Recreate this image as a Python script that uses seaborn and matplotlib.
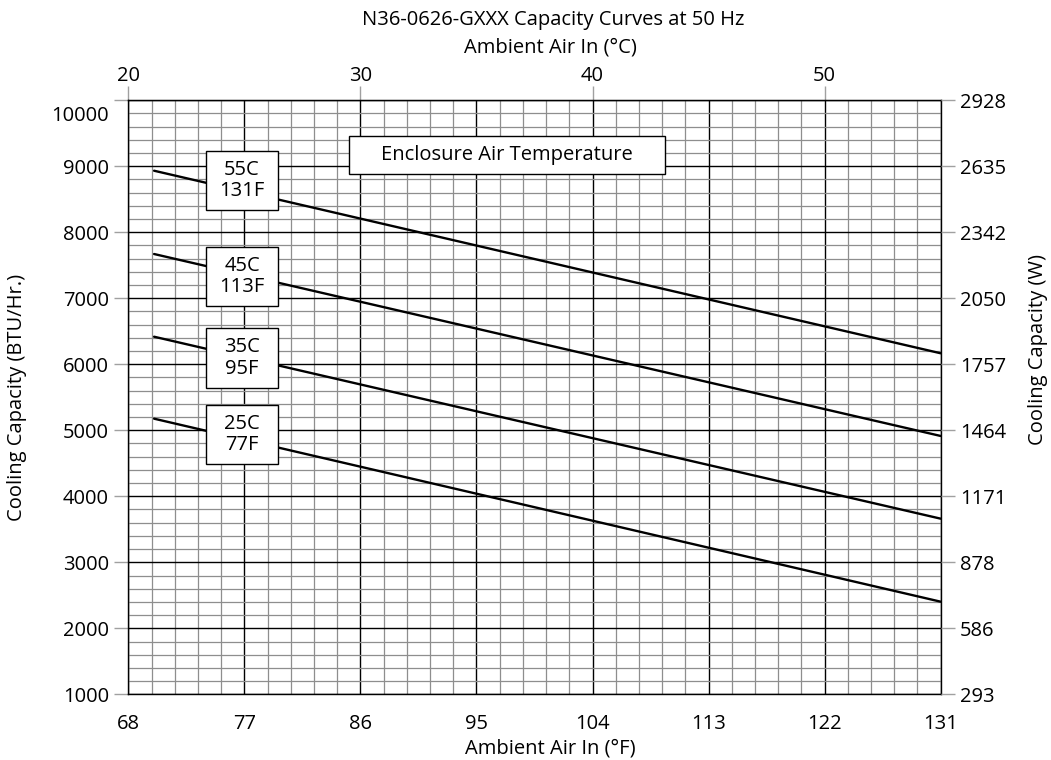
import matplotlib
matplotlib.use("Agg")
import matplotlib.pyplot as plt
import numpy as np
import pandas as pd
import seaborn as sns
from matplotlib.patches import Rectangle
from matplotlib.ticker import FixedLocator, MultipleLocator
from matplotlib.transforms import ScaledTranslation

# capacity curves (BTU/Hr.), straight lines between end points
ambient_f = [70, 131]
cap_55c = [8933, 6167]
cap_45c = [7671, 4914]
cap_35c = [6418, 3661]
cap_25c = [5176, 2403]
curve_names = ["55C\n131F", "45C\n113F", "35C\n95F", "25C\n77F"]
label_levels = [8785, 7333, 6096, 4940]

f_ticks = [68, 77, 86, 95, 104, 113, 122, 131]
c_ticks = [20, 30, 40, 50]
btu_ticks = [1000, 2000, 3000, 4000, 5000, 6000, 7000, 8000, 9000, 10000]
w_labels = ["293", "586", "878", "1171", "1464", "1757", "2050", "2342", "2635", "2928"]

sns.set_style("white")
plt.rcParams["font.family"] = ["Open Sans", "DejaVu Sans"]
plt.rcParams["text.color"] = "black"
plt.rcParams["axes.labelcolor"] = "black"
FS = 14.5
GRID = "#8e8e8e"
TICK = "#a0a0a0"

rows = []
for name, vals in zip(curve_names, [cap_55c, cap_45c, cap_35c, cap_25c]):
    for x, y in zip(ambient_f, vals):
        rows.append({"ambient_f": x, "btu": y, "curve": name})
df = pd.DataFrame(rows)

fig = plt.figure(figsize=(10.51, 7.6), dpi=100)
ax = fig.add_axes([128.3 / 1051, 1 - 694.3 / 760, 812.4 / 1051, 594 / 760])

sns.lineplot(data=df, x="ambient_f", y="btu", hue="curve", palette=["black"] * 4,
             legend=False, linewidth=1.7, ax=ax, zorder=3)

ax.set_xlim(68, 131)
ax.set_ylim(1000, 10000)
ax.set_xticks(f_ticks)
ax.set_yticks(btu_ticks)
ax.xaxis.set_minor_locator(FixedLocator(np.arange(68, 131.01, 1.8)))
ax.yaxis.set_minor_locator(MultipleLocator(200))
ax.grid(which="minor", color=GRID, linewidth=0.9)
ax.grid(which="major", color="black", linewidth=1.0)
ax.set_axisbelow(True)
ax.tick_params(which="major", length=10, width=1, color=TICK, labelcolor="black",
               labelsize=FS, pad=4)
ax.tick_params(which="minor", length=0)
for s in ax.spines.values():
    s.set_color("black")
    s.set_linewidth(1.0)

ax.set_xlabel("Ambient Air In (°F)", fontsize=FS)
ax.xaxis.label.set_va("center")
ax.xaxis.set_label_coords(0.52, -0.092)
ax.set_ylabel("Cooling Capacity (BTU/Hr.)", fontsize=FS)
ax.yaxis.label.set_va("center")
ax.yaxis.set_label_coords(-0.137, 0.5)

# top axis in °C
top = ax.secondary_xaxis("top", functions=(lambda f: (f - 32) / 1.8, lambda c: c * 1.8 + 32))
top.set_xticks(c_ticks)
top.tick_params(length=10, width=1, color=TICK, labelcolor="black", labelsize=FS, pad=0.5)
fig.text(550 / 1051, 1 - 48 / 760, "Ambient Air In (°C)", ha="center", va="center",
         fontsize=FS)

# right axis in W
right = ax.twinx()
right.set_ylim(1000, 10000)
right.set_yticks(btu_ticks)
right.set_yticklabels(w_labels)
right.tick_params(length=10, width=1, color=TICK, labelcolor="black", labelsize=FS, pad=4)
right.grid(False)
for s in right.spines.values():
    s.set_visible(False)
right.set_ylabel("Cooling Capacity (W)", fontsize=FS)
right.yaxis.label.set_va("center")
right.yaxis.set_label_coords(1.12, 0.58)

# curve labels
for name, lvl in zip(curve_names, label_levels):
    ax.add_patch(Rectangle((74.0, lvl - 450), 5.64, 900, facecolor="white",
                           edgecolor="black", linewidth=1.0, zorder=4))
    ax.text(76.82, lvl, name, ha="center", va="center", fontsize=FS,
            linespacing=1.1, zorder=5)

ax.add_patch(Rectangle((85.1, 8879), 24.5, 580, facecolor="white",
                       edgecolor="black", linewidth=1.0, zorder=4))
ax.text(97.35, 9169, "Enclosure Air Temperature", ha="center", va="center",
        fontsize=FS, zorder=5)

fig.text(553 / 1051, 1 - 20 / 760, "N36-0626-GXXX Capacity Curves at 50 Hz",
         ha="center", va="center", fontsize=FS)

# the 10000 label sits a little below its tick in the original
lab = ax.yaxis.get_major_ticks()[-1].label1
lab.set_transform(lab.get_transform() + ScaledTranslation(0, -0.13, fig.dpi_scale_trans))

fig.savefig("out.png", dpi=100)
